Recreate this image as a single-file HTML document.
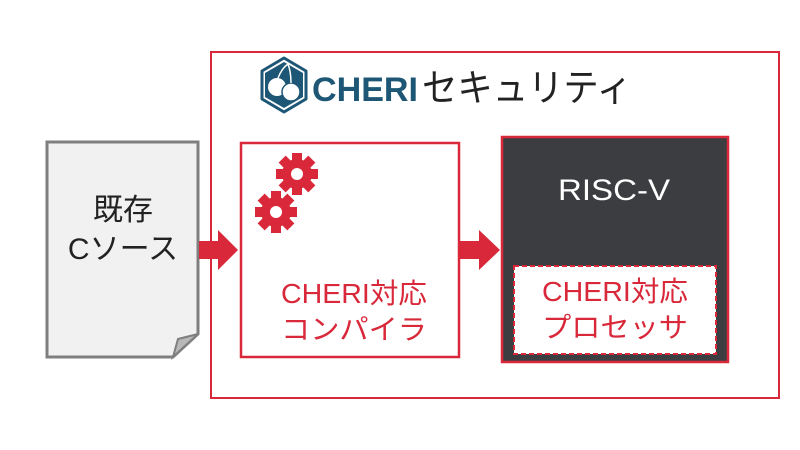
<!DOCTYPE html>
<html><head><meta charset="utf-8"><style>
html,body{margin:0;padding:0;background:#fff;width:800px;height:450px;overflow:hidden}
text{font-family:"Liberation Sans","Noto Sans CJK JP",sans-serif}
</style></head><body>
<svg width="800" height="450" viewBox="0 0 800 450" xmlns="http://www.w3.org/2000/svg">
<rect x="0" y="0" width="800" height="450" fill="#fff"/>
<!-- document -->
<path d="M47,142 H198 V334 L173,357 H47 Z" fill="#f1f1f1" stroke="#7f7f7f" stroke-width="3"/>
<path d="M198,334 L178,339 L173,357 Z" fill="#b8b8b8" stroke="#7f7f7f" stroke-width="2"/>
<text x="123" y="220" font-size="30" text-anchor="middle" fill="#222">既存</text>
<text x="123" y="259" font-size="30" text-anchor="middle" fill="#222">Cソース</text>
<!-- outer -->
<rect x="211" y="52" width="568" height="346" fill="none" stroke="#d8283a" stroke-width="2"/>
<!-- logo -->
<path d="M284,58 L306,71 L306,99 L284,112 L262,99 L262,71 Z" fill="#fff" stroke="#1e5775" stroke-width="3" stroke-linejoin="round"/>
<path d="M284,62 L303,73 L303,97 L284,108 L265,97 L265,73 Z" fill="#1e5775"/>
<circle cx="277" cy="87" r="9" fill="#fff"/>
<circle cx="291" cy="92" r="9" fill="#fff" stroke="#1e5775" stroke-width="1.5"/>
<path d="M278,78 Q282,68 288,64 M291,83 Q291,72 288,64" stroke="#fff" stroke-width="1.5" fill="none"/>
<text x="312" y="101" font-size="34" font-weight="bold" fill="#1e5775" textLength="106" lengthAdjust="spacingAndGlyphs">CHERI</text>
<text x="422" y="101" font-size="38" fill="#222" textLength="210" lengthAdjust="spacingAndGlyphs">セキュリティ</text>
<!-- compiler -->
<rect x="241" y="143" width="218" height="214" fill="#fff" stroke="#d8283a" stroke-width="2.5"/>
<g fill="#d8283a">
<g transform="translate(297,174)">
<circle r="15"/>
<rect x="-5" y="-21" width="10" height="42"/><rect x="-5" y="-21" width="10" height="42" transform="rotate(45)"/><rect x="-5" y="-21" width="10" height="42" transform="rotate(90)"/><rect x="-5" y="-21" width="10" height="42" transform="rotate(135)"/>
<circle r="6" fill="#fff"/>
</g>
<g transform="translate(276,212)">
<circle r="15"/>
<rect x="-5" y="-21" width="10" height="42"/><rect x="-5" y="-21" width="10" height="42" transform="rotate(45)"/><rect x="-5" y="-21" width="10" height="42" transform="rotate(90)"/><rect x="-5" y="-21" width="10" height="42" transform="rotate(135)"/>
<circle r="6" fill="#fff"/>
</g>
</g>
<text x="354" y="303" font-size="28" text-anchor="middle" fill="#d8283a" textLength="146" lengthAdjust="spacingAndGlyphs">CHERI対応</text>
<text x="354" y="339" font-size="28" text-anchor="middle" fill="#d8283a" textLength="146" lengthAdjust="spacingAndGlyphs">コンパイラ</text>
<!-- arrows -->
<path d="M199,241 H218 V230 L238,250 L218,270 V259 H199 Z" fill="#d8283a"/>
<path d="M460,241 H479 V230 L500,250 L479,270 V259 H460 Z" fill="#d8283a"/>
<!-- processor -->
<rect x="502" y="137" width="226" height="225" fill="#3c3d40" stroke="#d8283a" stroke-width="2.5"/>
<text x="614" y="200" font-size="30" text-anchor="middle" fill="#fff" textLength="112" lengthAdjust="spacingAndGlyphs">RISC-V</text>
<rect x="514" y="266" width="202" height="88" fill="#fff" stroke="#d8283a" stroke-width="2" stroke-dasharray="5,3"/>
<text x="615" y="301" font-size="28" text-anchor="middle" fill="#d8283a" textLength="146" lengthAdjust="spacingAndGlyphs">CHERI対応</text>
<text x="615" y="337" font-size="28" text-anchor="middle" fill="#d8283a" textLength="146" lengthAdjust="spacingAndGlyphs">プロセッサ</text>
</svg>
</body></html>
